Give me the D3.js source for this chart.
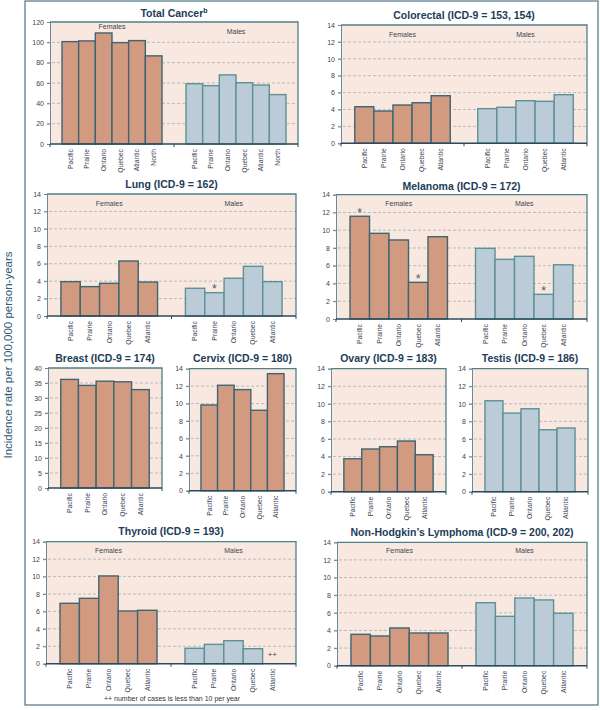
<!DOCTYPE html>
<html><head><meta charset="utf-8">
<script src="https://cdn.jsdelivr.net/npm/d3@7/dist/d3.min.js"></script>
<style>
html,body{margin:0;padding:0;background:#fff;}
svg{display:block;font-family:"Liberation Sans",Arial,sans-serif;}
</style></head>
<body><svg id="chart" width="600" height="710"></svg>
<script>
// ---------------- DATA ----------------
const regions5 = ["Pacific","Prairie","Ontario","Quebec","Atlantic"];
const regions6 = ["Pacific","Prairie","Ontario","Quebec","Atlantic","North"];
const sexes = ["Females","Males"];

const ticks120 = [0,20,40,60,80,100,120];
const ticks14 = [0,2,4,6,8,10,12,14];
const ticks40 = [0,5,10,15,20,25,30,35,40];

const totalFemales = [100.7,101.4,109.2,99.7,101.7,86.7];
const totalMales   = [59.3,57.4,68.0,60.3,58.0,48.6];
const colorectalFemales = [4.33,3.82,4.53,4.80,5.63];
const colorectalMales   = [4.10,4.26,5.04,4.97,5.75];
const lungFemales = [3.94,3.37,3.75,6.31,3.90];
const lungMales   = [3.18,2.68,4.33,5.70,3.94];
const melanomaFemales = [11.57,9.65,8.90,4.13,9.27];
const melanomaMales   = [7.96,6.72,7.06,2.78,6.11];
const breastFemales = [36.2,34.2,35.6,35.4,32.8];
const cervixFemales = [9.84,12.1,11.6,9.23,13.43];
const ovaryFemales  = [3.75,4.86,5.12,5.77,4.21];
const testisMales   = [10.35,8.95,9.44,7.05,7.25];
const thyroidFemales = [6.93,7.50,10.07,6.05,6.13];
const thyroidMales   = [1.77,2.22,2.64,1.72,null];
const nhlFemales = [3.56,3.37,4.28,3.71,3.71];
const nhlMales   = [7.15,5.60,7.68,7.46,5.95];

// asterisk flags (rate flagged) and "++" (fewer than 10 cases)
const lungMalesStar = ["Prairie"];
const melanomaFemalesStar = ["Pacific","Quebec"];
const melanomaMalesStar = ["Quebec"];
const thyroidMalesFew = ["Atlantic"];

const titles = ["Total Cancer","Colorectal (ICD-9 = 153, 154)","Lung (ICD-9 = 162)","Melanoma (ICD-9 = 172)",
  "Breast (ICD-9 = 174)","Cervix (ICD-9 = 180)","Ovary (ICD-9 = 183)","Testis (ICD-9 = 186)",
  "Thyroid (ICD-9 = 193)","Non-Hodgkin\u2019s Lymphoma (ICD-9 = 200, 202)"];
const yLabel = "Incidence rate per 100,000 person-years";
const footnote = "++ number of cases is less than 10 per year";

// ---------------- LAYOUT ----------------
const C = {
  bg:"#f9e8df", fFill:"#d39a82", fStroke:"#3e6670", mFill:"#bccbd8", mStroke:"#5c9294",
  grid:"#9fb0c0", axis:"#2b4a5e", border:"#4d8088", title:"#1d3d58", text:"#3a4656"
};
const panels = [
  {title:titles[0], sup:"b", box:[50,298,22,144], ticks:ticks120, ty:16.5, ly:[29,34],
   groups:[{sex:"Females",regions:regions6,values:totalFemales},{sex:"Males",regions:regions6,values:totalMales}]},
  {title:titles[1], box:[341,587,25,143.3], ticks:ticks14, ty:18.5, ly:[36.5,36.5],
   groups:[{sex:"Females",regions:regions5,values:colorectalFemales},{sex:"Males",regions:regions5,values:colorectalMales}]},
  {title:titles[2], box:[47,296,194,316], ticks:ticks14, ty:188, ly:[205.5,205.5],
   groups:[{sex:"Females",regions:regions5,values:lungFemales},{sex:"Males",regions:regions5,values:lungMales,star:lungMalesStar}]},
  {title:titles[3], box:[336,587,194.7,319], ticks:ticks14, ty:189.5, ly:[205.5,205.5],
   groups:[{sex:"Females",regions:regions5,values:melanomaFemales,star:melanomaFemalesStar},{sex:"Males",regions:regions5,values:melanomaMales,star:melanomaMalesStar}]},
  {title:titles[4], box:[48,162,368,488], ticks:ticks40, ty:362,
   groups:[{sex:"Females",regions:regions5,values:breastFemales}]},
  {title:titles[5], box:[189,296,368.7,490.7], ticks:ticks14, ty:362,
   groups:[{sex:"Females",regions:regions5,values:cervixFemales}]},
  {title:titles[6], box:[331,446,368.7,491.7], ticks:ticks14, ty:362,
   groups:[{sex:"Females",regions:regions5,values:ovaryFemales}]},
  {title:titles[7], box:[472,588,368.7,491.7], ticks:ticks14, ty:362,
   groups:[{sex:"Males",regions:regions5,values:testisMales}]},
  {title:titles[8], box:[46,296,541.7,663.7], ticks:ticks14, ty:535, ly:[552.5,552.5],
   groups:[{sex:"Females",regions:regions5,values:thyroidFemales},{sex:"Males",regions:regions5,values:thyroidMales,few:thyroidMalesFew}]},
  {title:titles[9], box:[337,587,542.3,665.7], ticks:ticks14, ty:536, ly:[553,553],
   groups:[{sex:"Females",regions:regions5,values:nhlFemales},{sex:"Males",regions:regions5,values:nhlMales}]}
];

const svg = d3.select("#chart");

// outer frame
svg.append("rect").attr("x",25).attr("y",1).attr("width",573).attr("height",704)
  .attr("fill","none").attr("stroke","#4a7488").attr("stroke-width",1.2);

// y axis label
svg.append("text").attr("transform","translate(12,355) rotate(-90)")
  .attr("text-anchor","middle").attr("font-size",11.5).attr("fill","#2d5c72").text(yLabel);

panels.forEach(p=>{
  const [x0,x1,y0,y1] = p.box;
  const g = svg.append("g");
  const y = d3.scaleLinear().domain([0,d3.max(p.ticks)]).range([y1,y0]);
  const gx = d3.scaleBand().domain(p.groups.map(d=>d.sex)).range([x0,x1]).padding(0);

  g.append("rect").attr("x",x0).attr("y",y0).attr("width",x1-x0).attr("height",y1-y0).attr("fill",C.bg);

  // gridlines
  g.selectAll("line.grid").data(p.ticks.filter(t=>t>0 && t<d3.max(p.ticks))).join("line")
    .attr("x1",x0-3).attr("x2",x1).attr("y1",d=>y(d)).attr("y2",d=>y(d))
    .attr("stroke",C.grid).attr("stroke-width",0.8).attr("stroke-dasharray","3,2");

  // y axis
  const ax = g.append("g").attr("transform",`translate(${x0},0)`)
    .call(d3.axisLeft(y).tickValues(p.ticks).tickSize(3).tickPadding(3).tickFormat(d3.format("d")));
  ax.select(".domain").attr("stroke","#6c8a99").attr("stroke-width",1);
  ax.selectAll(".tick line").attr("stroke","#6c8a99");
  ax.selectAll(".tick text").attr("font-size",7).attr("fill","#444").attr("font-family","Liberation Sans, Arial, sans-serif");

  // top & right border
  g.append("path").attr("d",`M${x0},${y0}H${x1}V${y1}`).attr("fill","none")
    .attr("stroke",C.border).attr("stroke-width",1.3);

  // bars
  p.groups.forEach((grp,gi)=>{
    const isF = grp.sex==="Females";
    const bx = d3.scaleBand().domain(grp.regions).range([gx(grp.sex), gx(grp.sex)+gx.bandwidth()])
      .paddingInner(0).paddingOuter(0.72);
    const rows = grp.regions.map((r,i)=>({r, v:grp.values[i]}));
    g.selectAll(null).data(rows.filter(d=>d.v!=null)).join("rect")
      .attr("x",d=>bx(d.r)).attr("width",bx.bandwidth())
      .attr("y",d=>y(d.v)).attr("height",d=>y(0)-y(d.v))
      .attr("fill",isF?C.fFill:C.mFill).attr("stroke",isF?C.fStroke:C.mStroke).attr("stroke-width",1.4);
    // region labels
    g.selectAll(null).data(grp.regions).join("text")
      .attr("transform",d=>`translate(${bx(d)+bx.bandwidth()/2},${y1+5}) rotate(-90)`)
      .attr("dy","0.35em").attr("text-anchor","end").attr("font-size",6.8).attr("fill",C.text).text(d=>d);
    // stars
    if(grp.star){
      g.selectAll(null).data(rows.filter(d=>grp.star.includes(d.r))).join("text")
        .attr("x",d=>bx(d.r)+bx.bandwidth()/2).attr("y",d=>y(d.v)+0.5)
        .attr("text-anchor","middle").attr("font-size",12.5).attr("fill","#4f5a66").text("*");
    }
    if(grp.few){
      g.selectAll(null).data(grp.few).join("text")
        .attr("x",d=>bx(d)+bx.bandwidth()/2).attr("y",y(0)-7)
        .attr("text-anchor","middle").attr("font-size",8).attr("fill","#444").text("++");
    }
    // group label
    if(p.ly){
      g.append("text").attr("x",gx(grp.sex)+gx.bandwidth()/2).attr("y",p.ly[gi])
        .attr("text-anchor","middle").attr("font-size",7).attr("fill",C.text).text(grp.sex);
    }
  });

  // bottom axis
  g.append("line").attr("x1",x0).attr("x2",x1).attr("y1",y1).attr("y2",y1)
    .attr("stroke",C.axis).attr("stroke-width",1.5);
  const bounds = [x0].concat(p.groups.map(d=>gx(d.sex)+gx.bandwidth()));
  g.selectAll(null).data(bounds).join("line")
    .attr("x1",d=>d).attr("x2",d=>d).attr("y1",y1).attr("y2",y1+3).attr("stroke",C.axis).attr("stroke-width",1);

  // title
  const t = g.append("text").attr("x",(x0+x1)/2).attr("y",p.ty).attr("text-anchor","middle")
    .attr("font-size",10.5).attr("font-weight","bold").attr("fill",C.title).text(p.title);
  if(p.sup) t.append("tspan").attr("font-size",7).attr("dy",-4).text(p.sup);
});

// footnote
svg.append("text").attr("x",172).attr("y",701).attr("text-anchor","middle")
  .attr("font-size",7).attr("fill","#333").text(footnote);
</script></body></html>
